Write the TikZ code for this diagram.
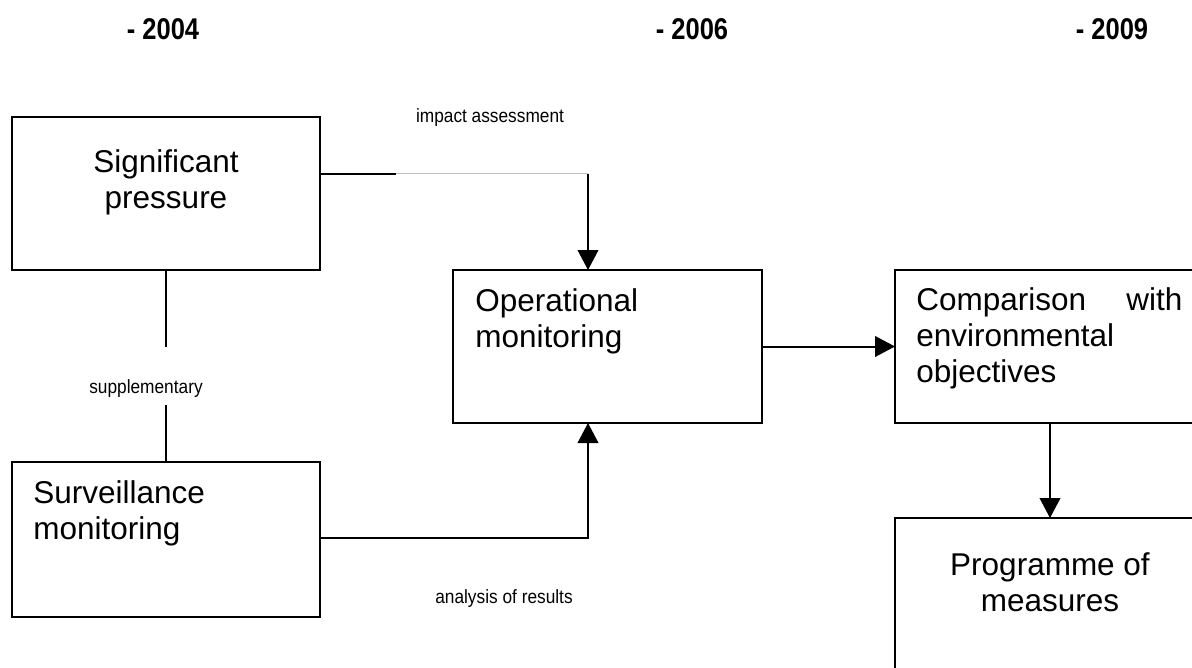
\documentclass[tikz,border=0pt]{standalone}
\usepackage{fontspec}
\setmainfont{Liberation Sans}
\newfontfamily\yearfont[FakeStretch=0.85]{Liberation Sans}
\newfontfamily\notefont[FakeStretch=0.9]{Liberation Sans}
\usetikzlibrary{arrows.meta}
\begin{document}
\begin{tikzpicture}[x=0.5pt,y=-0.5pt,
  box/.style={draw,line width=1pt,inner sep=0pt,outer sep=0pt},
  year/.style={anchor=base,inner sep=0pt,font=\yearfont\bfseries\fontsize{15}{18}\selectfont},
  note/.style={anchor=base,inner sep=0pt,font=\notefont\fontsize{9.6}{11}\selectfont},
  body/.style={inner sep=0pt,font=\fontsize{15.75}{18}\selectfont},
  link/.style={line width=1pt},
  faint/.style={line width=0.5pt,draw=black!25},
  flow/.style={link,-{Triangle[width=10.3pt,length=10pt]}}]
  \useasboundingbox (0,0) rectangle (1192,668);
  \clip (0,0) rectangle (1192,668);

  % timeline headings
  \node[year] (y2004) at (163,40) {- 2004};
  \node[year] (y2006) at (692,40) {- 2006};
  \node[year] (y2009) at (1112,40) {- 2009};

  % boxes
  \node[box,minimum width=154pt,minimum height=76.5pt] (sig) at (166,193.5) {};
  \node[box,minimum width=154.5pt,minimum height=76.5pt] (op) at (607.5,346.5) {};
  \node[box,minimum width=155pt,minimum height=76.5pt] (cmp) at (1050,346.5) {};
  \node[box,minimum width=154pt,minimum height=77.5pt] (surv) at (166,539.5) {};
  \node[box,minimum width=155pt,minimum height=101pt] (prog) at (1050,619) {};

  % box texts
  \node[body,anchor=base] (sigtext) at (166,172.7)
    {\begin{tabular}[t]{@{}c@{}}Significant\\pressure\end{tabular}};
  \node[body,anchor=base west] (optext) at (475,311)
    {\begin{tabular}[t]{@{}l@{}}Operational\\monitoring\end{tabular}};
  \node[body,anchor=base west] (cmptext) at (916,310)
    {\parbox[t]{133pt}{Comparison\hfill with\\environmental\\objectives}};
  \node[body,anchor=base west] (survtext) at (33,503)
    {\begin{tabular}[t]{@{}l@{}}Surveillance\\monitoring\end{tabular}};
  \node[body,anchor=base] (progtext) at (1050,575)
    {\begin{tabular}[t]{@{}c@{}}Programme of\\measures\end{tabular}};

  % impact assessment link
  \coordinate (iaL) at (396,174);
  \coordinate (iaR) at (588,174);
  \draw[link] (sig.east |- iaL) -- (iaL);
  \draw[faint] (iaL) -- (iaR);
  \draw[flow] (iaR) -- (iaR |- op.north);
  \node[note] (ia) at (490,123) {impact assessment};

  % supplementary link
  \coordinate (supA) at (166,347);
  \coordinate (supB) at (166,405);
  \draw[link] (sig.south) -- (supA);
  \draw[link] (supB) -- (surv.north);
  \node[note] (sup) at (146,393) {supplementary};

  % analysis of results link
  \coordinate (arC) at (588,538);
  \draw[flow] (surv.east |- arC) -- (arC) -- (arC |- op.south);
  \node[note] (ar) at (504,603) {analysis of results};

  % main flow
  \draw[flow] (op.east) -- (cmp.west);
  \draw[flow] (cmp.south) -- (prog.north);
\end{tikzpicture}
\end{document}
